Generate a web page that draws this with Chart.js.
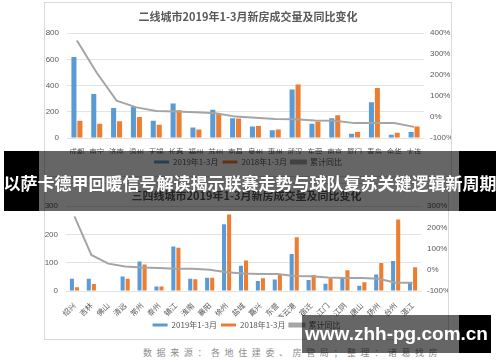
<!DOCTYPE html>
<html lang="zh">
<head>
<meta charset="UTF-8">
<title>新房成交量及同比变化</title>
<script src="https://cdn.jsdelivr.net/npm/chart.js"></script>
<style>
  html, body { margin: 0; padding: 0; background: #fff; }
  body { width: 500px; height: 362px; position: relative; overflow: hidden; font-family: "Noto Sans CJK SC", sans-serif; }
  .box { position: absolute; border: 1px solid #d9d9d9; background: #fff; }
  #boxA { left: 44px; top: 2px; width: 406px; height: 173px; }
  #boxB { left: 44px; top: 183px; width: 403px; height: 155px; }
  .source { position: absolute; left: 143px; top: 346px; font-size: 9px; letter-spacing: 4.6px; color: #8c8c8c; white-space: nowrap; }
  .banner { position: absolute; left: 4px; top: 151px; width: 492px; height: 60px; }
  .banner .l { position: absolute; left: 0; top: 0; width: 35px; height: 60px; background: #000; }
  .banner .m { position: absolute; left: 35px; top: 0; width: 420px; height: 60px; background: rgba(0,0,0,0.6); }
  .banner .r { position: absolute; left: 455px; top: 0; width: 37px; height: 60px; background: #000; }
  .headline { position: absolute; left: -10px; top: 171px; width: 520px; text-align: center; color: #fff; font-weight: bold; font-size: 17px; line-height: 24px; white-space: nowrap; }
  .wm { position: absolute; left: 302px; top: 315px; width: 189px; height: 38px; }
  .wm .m { position: absolute; left: 0; top: 0; width: 157px; height: 38px; background: rgba(0,0,0,0.6); }
  .wm .r { position: absolute; left: 157px; top: 0; width: 32px; height: 38px; background: #000; }
  .wm .t { position: absolute; left: 0; top: 0; width: 189px; height: 38px; line-height: 38px; text-align: center; color: #fff; font-weight: bold; font-size: 19px; white-space: nowrap; font-family: "Liberation Sans", Arial, sans-serif; }
</style>
</head>
<body>
<div class="box" id="boxA"><canvas id="chartA" width="406" height="173"></canvas></div>
<div class="box" id="boxB"><canvas id="chartB" width="403" height="155"></canvas></div>
<div class="source">数据来源：各地住建委、房管局；整理：诸葛找房</div>
<div class="banner"><div class="l"></div><div class="m"></div><div class="r"></div></div>
<div class="headline">以萨卡德甲回暖信号解读揭示联赛走势与球队复苏关键逻辑新周期</div>
<div class="wm"><div class="m"></div><div class="r"></div><div class="t">www.zhh-pg.com.cn</div></div>

<script>
// 二线城市
const citiesA = ['成都', '南宁', '济南', '温州', '无锡', '长春', '福州', '苏州', '南昌', '泉州', '惠州', '武汉', '东莞', '南京', '厦门', '青岛', '金华', '大连'];
const a2019 = [619, 335, 229, 241, 131, 264, 80, 216, 151, 88, 60, 370, 108, 151, 33, 272, 25, 45];
const a2018 = [131, 108, 128, 161, 101, 211, 65, 186, 148, 91, 65, 408, 126, 174, 45, 382, 40, 88];
const aYoY = [365, 211, 78, 46, 29, 26, 23, 18, 2, -3, -9, -10, -17, -18, -29, -29, -29, -47];

// 三四线城市
const citiesB = ['绍兴', '吉林', '佛山', '清远', '常州', '泰州', '镇江', '淮南', '襄阳', '徐州', '盐城', '嘉兴', '东营', '连云港', '宿迁', '江门', '江阴', '唐山', '扬州', '台州', '湛江'];
const b2019 = [43, 43, 0, 51, 104, 16, 157, 43, 47, 236, 89, 35, 41, 131, 39, 26, 46, 19, 58, 106, 29];
const b2018 = [13, 25, 0, 43, 94, 16, 153, 42, 47, 271, 108, 45, 57, 190, 57, 45, 73, 31, 99, 253, 84];
const bYoY = [252, 70, 29, 16, 11, 9, 5, 5, 0, -12, -17, -20, -20, -29, -31, -36, -39, -39, -42, -61, -61];

const blue = '#5b9bd5', orange = '#ed7d31', gray = '#a5a5a5';
const txt = '#595959';
const tickFont = { family: 'Liberation Sans', size: 8 };
const cjkFont = { family: 'Noto Sans CJK SC', size: 7.5 };

function makeChart(id, title, labels, s19, s18, yoy, o) {
  return new Chart(document.getElementById(id), {
    type: 'bar',
    data: {
      labels: labels,
      datasets: [
        { label: '2019年1-3月', data: s19, backgroundColor: blue, yAxisID: 'y', order: 1,
          categoryPercentage: 0.6, barPercentage: o.barPct },
        { label: '2018年1-3月', data: s18, backgroundColor: orange, yAxisID: 'y', order: 1,
          categoryPercentage: 0.6, barPercentage: o.barPct },
        { type: 'line', label: '累计同比', data: yoy, borderColor: gray, backgroundColor: gray,
          borderWidth: 2, pointRadius: 0, tension: 0, yAxisID: 'y1', order: 0 }
      ]
    },
    options: {
      responsive: false,
      animation: false,
      layout: { padding: { top: 0, bottom: o.padBottom, left: 0, right: 0 } },
      plugins: {
        title: { display: true, text: title, color: txt, font: { family: 'Noto Sans CJK SC', size: 11, weight: 'bold' },
                 padding: { top: o.titleTop, bottom: o.titleBottom } },
        legend: { position: 'bottom',
                  labels: { color: txt, font: { family: 'Noto Sans CJK SC', size: 8 }, boxWidth: 15, boxHeight: 3, padding: 4,
                            sort: (a, b) => a.datasetIndex - b.datasetIndex } },
        tooltip: { enabled: false }
      },
      scales: {
        x: {
          grid: { display: false }, border: { display: false },
          ticks: { color: txt, font: cjkFont, autoSkip: false, maxRotation: o.rot, minRotation: o.rot, padding: 2 },
          afterFit: s => { s.height = o.xHeight; }
        },
        y: {
          position: 'left', min: 0, max: o.yMax, grid: { color: '#e3e3e3', drawTicks: false }, border: { display: false },
          ticks: { stepSize: o.yStep, color: txt, font: tickFont, padding: 8 },
          afterFit: s => { s.width = o.leftW; }
        },
        y1: {
          position: 'right', min: -100, max: o.rMax, grid: { display: false, drawTicks: false }, border: { display: false },
          ticks: { stepSize: 100, color: txt, font: tickFont, padding: 6, callback: v => v + '%' },
          afterFit: s => { s.width = o.rightW; }
        }
      }
    }
  });
}

makeChart('chartA', '二线城市2019年1-3月新房成交量及同比变化', citiesA, a2019, a2018, aYoY,
  { barPct: 0.85, rot: 0, xHeight: 16, yMax: 800, yStep: 200, rMax: 400, leftW: 22, rightW: 27,
    titleTop: 7, titleBottom: 10, padBottom: 0 });
makeChart('chartB', '三四线城市2019年1-3月新房成交量及同比变化', citiesB, b2019, b2018, bYoY,
  { barPct: 0.8, rot: 45, xHeight: 26, yMax: 300, yStep: 100, rMax: 300, leftW: 21, rightW: 27,
    titleTop: 5, titleBottom: 4, padBottom: 0 });
</script>
</body>
</html>
